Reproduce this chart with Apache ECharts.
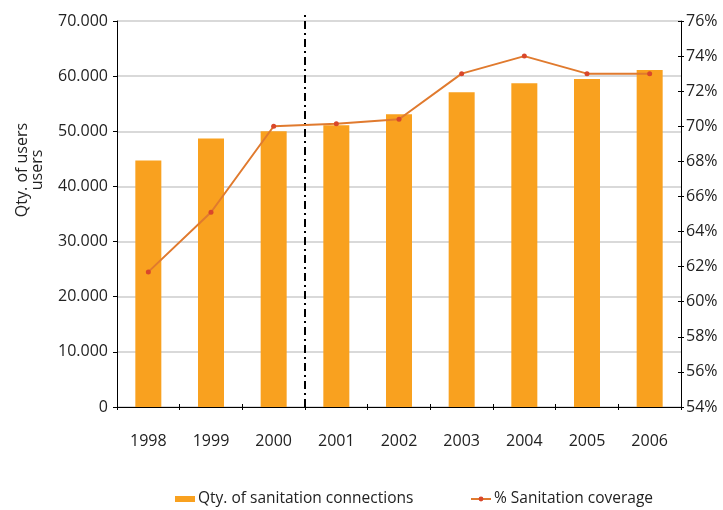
<!DOCTYPE html>
<html>
<head>
<meta charset="utf-8">
<script src="https://cdn.jsdelivr.net/npm/echarts@6/dist/echarts.min.js"></script>
<style>
  html, body { margin: 0; padding: 0; background: #fff; }
  #chart { width: 723px; height: 510px; }
</style>
</head>
<body>
<div id="chart"></div>
<script>
// Sanitation connections and coverage, 1998–2006
const years = ['1998', '1999', '2000', '2001', '2002', '2003', '2004', '2005', '2006'];
const connections = [44700, 48700, 50000, 51100, 53100, 57100, 58700, 59500, 61100];
const coverage = [61.7, 65.1, 70.0, 70.15, 70.4, 73.0, 74.0, 73.0, 73.0];
// Position of the dash-dot divider, in category bands (between 2000 and 2001),
// and the vertical span it covers on the left axis
const dividerAt = 3;
const dividerSpan = [0, 71600];

const FONT = 'Open Sans';
const TXT = '#222';

const chart = echarts.init(document.getElementById('chart'), null, { renderer: 'canvas' });

const rightAxisBase = {
  type: 'value', min: 54, max: 76, interval: 2, position: 'right'
};

chart.setOption({
  animation: false,
  textStyle: { fontFamily: FONT },
  grid: { left: 117, right: 42, top: 21, bottom: 103 },
  legend: [
    {
      data: ['Qty. of sanitation connections'],
      left: 170, top: 486,
      itemWidth: 20, itemHeight: 6, itemGap: 4,
      icon: 'rect',
      textStyle: { fontFamily: FONT, fontSize: 15.5, color: TXT, padding: [0, 0, 0, -2] }
    },
    {
      data: ['% Sanitation coverage'],
      left: 465, top: 486,
      itemWidth: 20, itemHeight: 6,
      textStyle: { fontFamily: FONT, fontSize: 15.5, color: TXT, padding: [0, 0, 0, -2] }
    }
  ],
  xAxis: [
    {
      type: 'category', data: years, boundaryGap: true,
      axisLine: { lineStyle: { color: '#000', width: 1 } },
      axisTick: { show: true, length: 3, lineStyle: { color: '#000' } },
      axisLabel: { fontFamily: FONT, fontSize: 16, color: TXT, margin: 26 },
      splitLine: { show: false }
    },
    {
      // continuous scale over the same bands, used to place the divider
      type: 'value', min: 0, max: years.length, show: false
    },
    {
      // inner half of the crossing tick marks
      type: 'category', data: years, boundaryGap: true, position: 'bottom',
      axisLine: { show: false },
      axisTick: { show: true, inside: true, length: 3, lineStyle: { color: '#000' } },
      axisLabel: { show: false }
    }
  ],
  yAxis: [
    {
      type: 'value', min: 0, max: 70000, interval: 10000, position: 'left',
      axisLine: { show: true, lineStyle: { color: '#000', width: 1 } },
      axisTick: { show: true, length: 4, lineStyle: { color: '#000' } },
      axisLabel: {
        fontFamily: FONT, fontSize: 16, color: TXT, margin: 9,
        formatter: v => v === 0 ? '0' : (v / 1000).toFixed(0) + '.000'
      },
      splitLine: { show: true, lineStyle: { color: '#d9d9d9', width: 2 } }
    },
    Object.assign({}, rightAxisBase, {
      axisLine: { show: true, lineStyle: { color: '#000', width: 1 } },
      axisTick: { show: true, length: 3, lineStyle: { color: '#000' } },
      axisLabel: { fontFamily: FONT, fontSize: 16, color: TXT, margin: 5, formatter: '{value}%' },
      splitLine: { show: false }
    }),
    Object.assign({}, rightAxisBase, {
      axisLine: { show: false },
      axisTick: { show: true, inside: true, length: 3, lineStyle: { color: '#000' } },
      axisLabel: { show: false },
      splitLine: { show: false }
    })
  ],
  series: [
    {
      name: 'Qty. of sanitation connections',
      type: 'bar',
      data: connections,
      barWidth: 26,
      itemStyle: { color: '#f9a11f' }
    },
    {
      // vertical dash-dot divider between the two periods
      name: 'divider',
      type: 'line',
      xAxisIndex: 1,
      yAxisIndex: 0,
      data: dividerSpan.map(v => [dividerAt, v]),
      clip: false,
      silent: true,
      symbol: 'none',
      z: 3,
      lineStyle: { color: '#000', width: 2, type: [8, 4, 2, 4] }
    },
    {
      name: '% Sanitation coverage',
      type: 'line',
      yAxisIndex: 1,
      data: coverage,
      symbol: 'circle',
      symbolSize: 5,
      z: 4,
      lineStyle: { color: '#e07a2e', width: 2 },
      itemStyle: { color: '#d9472b' }
    }
  ],
  graphic: [
    {
      type: 'text',
      rotation: Math.PI / 2,
      x: 30, y: 170,
      style: {
        text: 'Qty. of users\nusers',
        fontFamily: FONT, fontSize: 16, fill: TXT,
        align: 'center', verticalAlign: 'middle', lineHeight: 15
      }
    }
  ]
});
</script>
</body>
</html>
